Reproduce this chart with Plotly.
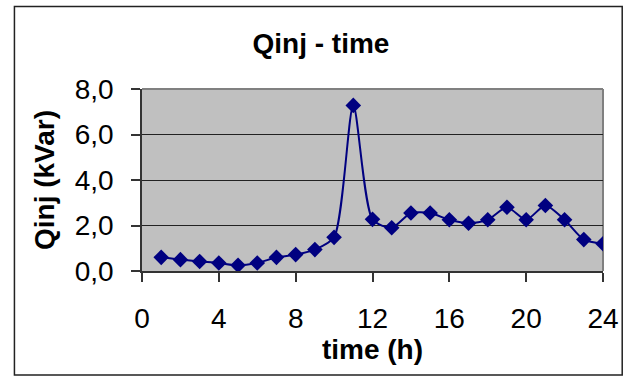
import plotly.graph_objects as go

# Hourly reactive power injection
hours = list(range(1, 25))
qinj_kvar = [0.60, 0.50, 0.42, 0.35, 0.25, 0.35, 0.60, 0.72, 0.94, 1.48,
             7.28, 2.27, 1.90, 2.55, 2.55, 2.25, 2.10, 2.25, 2.80, 2.25,
             2.88, 2.25, 1.38, 1.20]

x_ticks = [0, 4, 8, 12, 16, 20, 24]
y_ticks = [0, 2, 4, 6, 8]
y_tick_text = ["0,0", "2,0", "4,0", "6,0", "8,0"]

W, H = 631, 376
ML, MR, MT, MB = 142, 21, 89, 105
PW, PH = W - ML - MR, H - MT - MB

FONT = "Arial, Liberation Sans, sans-serif"
NAVY = "#000080"
AXIS = "#333333"

fig = go.Figure()
fig.add_trace(go.Scatter(
    x=hours, y=qinj_kvar,
    mode="lines+markers",
    line=dict(color=NAVY, width=2, shape="spline", smoothing=0.7),
    marker=dict(symbol="diamond", size=12, color=NAVY),
    showlegend=False,
))

# frame around the whole chart
def px_x(px):
    return (px - ML) / PW

def px_y(py):
    return (H - MB - py) / PH

fig.add_shape(type="rect", xref="paper", yref="paper",
              x0=px_x(12.5), x1=px_x(629.5), y0=px_y(375), y1=px_y(6.5),
              line=dict(color="#222222", width=1.5), layer="below")
# grey top and right edges of the plotting area
fig.add_shape(type="line", xref="paper", yref="paper", x0=0, x1=1, y0=1, y1=1,
              line=dict(color="#808080", width=2), layer="between")
fig.add_shape(type="line", xref="paper", yref="paper", x0=1, x1=1, y0=0, y1=1,
              line=dict(color="#808080", width=2), layer="between")

fig.update_layout(
    width=W, height=H,
    margin=dict(l=ML, r=MR, t=MT, b=MB, pad=0),
    paper_bgcolor="white",
    plot_bgcolor="#C0C0C0",
    font=dict(family=FONT, color="black"),
    title=dict(text="<b>Qinj - time</b>", font=dict(size=28, family=FONT),
               x=321 / W, xanchor="center", y=1 - 43 / H, yanchor="middle"),
    xaxis=dict(
        range=[0, 24], tickvals=x_ticks, ticktext=[str(v) for v in x_ticks],
        showgrid=False, zeroline=False,
        showline=True, linecolor=AXIS, linewidth=1.5,
        ticks="outside", ticklen=9, tickcolor=AXIS, tickwidth=1.5,
        tickfont=dict(size=28), ticklabelstandoff=13,
        title=dict(text="<b>time (h)</b>", font=dict(size=28), standoff=0),
    ),
    yaxis=dict(
        range=[0, 8], tickvals=y_ticks, ticktext=y_tick_text,
        showgrid=True, gridcolor="#222222", gridwidth=1,
        zeroline=False,
        showline=True, linecolor=AXIS, linewidth=1.5,
        ticks="outside", ticklen=9, tickcolor=AXIS, tickwidth=1.5,
        tickfont=dict(size=28), ticklabelstandoff=12,
        title=dict(text="<b>Qinj (kVar)</b>", font=dict(size=28), standoff=12),
    ),
)

fig.write_html("out.html")
